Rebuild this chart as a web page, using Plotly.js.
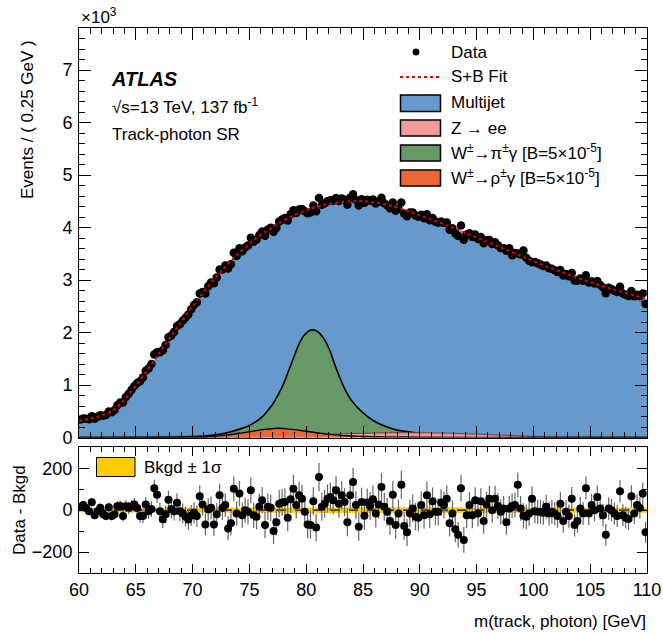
<!DOCTYPE html>
<html>
<head>
<meta charset="utf-8">
<script src="https://cdn.plot.ly/plotly-3.0.1.min.js"></script>
<style>html,body{margin:0;padding:0;background:#fff;}#chart{width:663px;height:634px;}</style>
</head>
<body>
<div id="chart"></div>
<script>
// ---------- DATA (events in units of 10^3 for the upper panel) ----------
const fitX = [60,61,62,63,64,65,66,67,68,69,70,71,72,73,74,75,76,77,78,79,80,81,82,83,84,85,86,87,88,89,90,91,92,93,94,95,96,97,98,99,100,101,102,103,104,105,106,107,108,109,110];
const fitY = [0.32,0.36,0.42,0.52,0.72,0.99,1.28,1.59,1.90,2.20,2.50,2.78,3.04,3.28,3.50,3.69,3.86,4.00,4.13,4.24,4.33,4.40,4.45,4.48,4.50,4.50,4.48,4.44,4.38,4.31,4.23,4.15,4.07,3.99,3.90,3.81,3.72,3.63,3.54,3.45,3.36,3.27,3.19,3.11,3.03,2.96,2.89,2.82,2.76,2.70,2.64];

const piX = [60,65,70,71,72,73,74,75,76,77,77.5,78,78.5,79,79.5,80,80.5,81,81.5,82,82.5,83,83.5,84,85,86,87,88,89,90,92,94,96,98,100,110];
const piY = [0.0,0.005,0.02,0.03,0.05,0.09,0.15,0.23,0.37,0.62,0.80,1.02,1.30,1.58,1.84,1.99,2.05,2.02,1.90,1.70,1.40,1.12,0.88,0.70,0.47,0.31,0.21,0.14,0.11,0.08,0.05,0.03,0.02,0.01,0.0,0.0];

const rhoX = [60,68,70,71,72,73,74,75,76,77,77.5,78,79,80,81,82,83,84,85,86,88,90,95,110];
const rhoY = [0.0,0.002,0.005,0.01,0.025,0.045,0.075,0.11,0.145,0.168,0.175,0.17,0.15,0.12,0.085,0.06,0.04,0.03,0.02,0.015,0.01,0.005,0.0,0.0];

const zeeX = [60,70,72,74,76,78,80,82,84,86,88,90,92,94,96,98,100,102,105,110];
const zeeY = [0.0,0.0,0.005,0.01,0.02,0.03,0.045,0.06,0.075,0.085,0.09,0.09,0.085,0.07,0.055,0.038,0.022,0.012,0.006,0.002];

// data points (10^3 events per 0.25 GeV bin), 200 bins from 60 to 110 GeV
const dataY = [
0.341,0.360,0.355,0.350, 0.406,0.359,0.393,0.424, 0.413,0.430,0.497,0.480, 0.525,0.614,0.665,0.667, 0.773,0.832,0.908,0.983,
1.036,1.071,1.143,1.271, 1.314,1.401,1.579,1.625, 1.624,1.662,1.764,1.911, 1.943,2.008,2.123,2.158, 2.223,2.283,2.343,2.438,
2.522,2.577,2.741,2.772, 2.745,2.881,2.954,2.940, 3.050,3.201,3.200,3.274, 3.221,3.300,3.520,3.457, 3.603,3.547,3.619,3.658,
3.806,3.730,3.765,3.855, 3.925,3.842,3.964,3.994, 3.917,3.991,4.112,4.150, 4.183,4.135,4.251,4.328, 4.275,4.345,4.351,4.311,
4.271,4.285,4.417,4.308, 4.564,4.435,4.462,4.499, 4.517,4.508,4.564,4.507, 4.554,4.527,4.435,4.569, 4.634,4.524,4.421,4.539,
4.471,4.529,4.508,4.535, 4.459,4.492,4.565,4.461, 4.425,4.366,4.477,4.317, 4.355,4.475,4.260,4.213, 4.284,4.288,4.229,4.204,
4.244,4.176,4.251,4.140, 4.183,4.112,4.092,4.116, 4.084,4.095,3.957,3.984, 3.888,3.838,4.039,3.769, 3.865,3.890,3.820,3.868,
3.783,3.819,3.702,3.758, 3.764,3.686,3.719,3.661, 3.611,3.604,3.558,3.606, 3.471,3.514,3.504,3.485, 3.560,3.424,3.367,3.340,
3.344,3.318,3.296,3.268, 3.276,3.224,3.212,3.184, 3.152,3.191,3.088,3.112, 3.072,3.135,2.989,2.988, 3.029,2.988,3.091,2.953,
2.975,2.934,2.979,2.907, 2.857,2.746,2.854,2.829, 2.797,2.770,2.873,2.744, 2.717,2.696,2.789,2.692, 2.717,2.689,2.743,2.543];

// data - background (events)
const resid = [
16,25,10,-5, 38,-24,-5,11, -20,-28,14,-28, -20,19,20,-28, 19,11,19,27,
10,-28,-28,27, -5,5,105,74, -5,-44,-20,50, 5,-5,35,-5, -15,-30,-45,-25,
-13,-28,66,27, -68,3,11,-68, -20,71,10,24, -87,-63,102,-16, 79,-24,0,-8,
95,-24,-31,16, 47,-71,16,11, -99,-58,31,36, 39,-36,52,102, 24,71,55,-8,
-68,-71,43,-83, 158,16,31,55, 63,47,95,31, 71,39,-58,71, 134,24,-79,39,
-27,36,20,52, -16,27,110,16, -8,-52,74,-71, -16,121,-76,-106, -16,8,-31,-36,
24,-24,71,-20, 43,-8,-8,36, 24,55,-63,-16, -91,-118,105,-142, -24,24,-24,47,
-16,43,-52,27, 55,0,55,20, -8,8,-58,8, 20,24,121,8, -27,-31,-16,55,
-5,-8,-8,-13, 16,-16,-8,-16, -28,31,-52,-8, -28,55,-71,-52, 8,-16,105,-16,
24,0,63,8, -24,-118,8,0, -16,-28,90,-24, -36,-42,66,-16, 24,11,80,-105];

const bandX = [60,70,80,90,100,110];
const bandSigma = [10,12,14,14,12,12];

const binLow = 60, binWidth = 0.25;
const binX = dataY.map((_, i) => binLow + binWidth * (i + 0.5));
const statErr = dataY.map(v => Math.sqrt(v * 1000));      // Poisson error, events
const statErrK = statErr.map(e => e / 1000);              // in 10^3 units

// ---------- COLOURS ----------
const cBlue = '#6699cc', cPink = '#f29b9b', cGreen = '#669966', cOrange = '#ee6633', cYellow = '#ffcc00';

const traces = [
  {x: fitX, y: fitY, xaxis:'x', yaxis:'y', type:'scatter', mode:'lines', fill:'tozeroy', fillcolor:cBlue,
   line:{width:0, shape:'spline', color:cBlue}, hoverinfo:'skip'},
  {x: piX, y: piY, xaxis:'x', yaxis:'y', type:'scatter', mode:'lines', fill:'tozeroy', fillcolor:cGreen,
   line:{width:1.6, shape:'spline', color:'#000'}},
  {x: zeeX, y: zeeY, xaxis:'x', yaxis:'y', type:'scatter', mode:'lines', fill:'tozeroy', fillcolor:cPink,
   line:{width:1, shape:'spline', color:'#6b3a3a'}},
  {x: rhoX, y: rhoY, xaxis:'x', yaxis:'y', type:'scatter', mode:'lines', fill:'tozeroy', fillcolor:cOrange,
   line:{width:1.4, shape:'spline', color:'#000'}},
  {x: binX, y: dataY, xaxis:'x', yaxis:'y', type:'scatter', mode:'markers',
   marker:{color:'#000', size:8.5}, error_y:{type:'data', array:statErrK, color:'#000', thickness:1, width:0}},
  {x: fitX, y: fitY, xaxis:'x', yaxis:'y', type:'scatter', mode:'lines',
   line:{width:2, dash:'dot', shape:'spline', color:'#e00000'}},
  // lower panel
  {x: bandX, y: bandSigma.map(s => -s), xaxis:'x2', yaxis:'y2', type:'scatter', mode:'lines', line:{width:0, color:cYellow}},
  {x: bandX, y: bandSigma, xaxis:'x2', yaxis:'y2', type:'scatter', mode:'lines', fill:'tonexty', fillcolor:cYellow, line:{width:0, color:cYellow}},
  {x: [60,110], y: [0,0], xaxis:'x2', yaxis:'y2', type:'scatter', mode:'lines', line:{width:1.2, dash:'dash', color:'#000'}},
  {x: binX, y: resid, xaxis:'x2', yaxis:'y2', type:'scatter', mode:'markers',
   marker:{color:'#000', size:8}, error_y:{type:'data', array:statErr, color:'#666', thickness:1.2, width:0}}
];

// ---------- LAYOUT helpers ----------
const L = 79, T = 28, W = 568, H = 545;
const px = x => (x - L) / W;
const py = y => (T + H - y) / H;
const F = 'Liberation Sans, Arial, Helvetica, sans-serif';

function txt(x, y, text, size, opts) {
  return Object.assign({xref:'paper', yref:'paper', x: px(x), y: py(y), text: text, showarrow:false,
    xanchor:'left', yanchor:'middle', font:{family:F, size:size, color:'#000'}}, opts || {});
}
function rect(x0, y0, x1, y1, fill, lw) {
  return {type:'rect', xref:'paper', yref:'paper', x0:px(x0), x1:px(x1), y0:py(y1), y1:py(y0),
    fillcolor:fill, line:{color:'#000', width:lw}};
}

const axisCommon = {
  showline:true, linecolor:'#000', linewidth:1, mirror:'allticks', ticks:'inside', tickcolor:'#000',
  showgrid:false, zeroline:false, tickfont:{family:F, size:18, color:'#000'}
};

const layout = {
  width:663, height:634,
  margin:{l:L, r:663 - L - W, t:T, b:634 - T - H, pad:0},
  paper_bgcolor:'#fff', plot_bgcolor:'#fff',
  showlegend:false, hovermode:false,
  font:{family:F, size:17, color:'#000'},
  xaxis: Object.assign({}, axisCommon, {anchor:'y', domain:[0,1], range:[60,110], dtick:5, tick0:60, ticklen:12,
    showticklabels:false, minor:{ticks:'inside', ticklen:6, dtick:1, tickcolor:'#000', showgrid:false}}),
  yaxis: Object.assign({}, axisCommon, {anchor:'x', domain:[(T + H - 437.5) / H, 1], range:[0,7.8], dtick:1, tick0:0, ticklen:12,
    ticklabelstandoff:2, minor:{ticks:'inside', ticklen:6, dtick:0.2, tickcolor:'#000', showgrid:false}}),
  xaxis2: Object.assign({}, axisCommon, {anchor:'y2', domain:[0,1], range:[60,110], dtick:5, tick0:60, ticklen:9,
    minor:{ticks:'inside', ticklen:5, dtick:1, tickcolor:'#000', showgrid:false}}),
  yaxis2: Object.assign({}, axisCommon, {anchor:'x2', domain:[0, (T + H - 447.3) / H], range:[-300,300], dtick:200, tick0:0, ticklen:10,
    ticklabelstandoff:2, minor:{ticks:'inside', ticklen:5, dtick:100, tickcolor:'#000', showgrid:false}}),
  annotations: [
    txt(79, 16, '×10<sup>3</sup>', 17),
    txt(27, 120, 'Events / ( 0.25 GeV )', 17, {xanchor:'center', textangle:-90}),
    txt(20, 510, 'Data - Bkgd', 17, {xanchor:'center', textangle:-90}),
    txt(648, 621, 'm(track, photon) [GeV]', 17, {xanchor:'right'}),
    txt(109, 79, '<b><i>ATLAS</i></b>', 20),
    txt(110, 106, '√s=13 TeV, 137 fb<sup>-1</sup>', 17),
    txt(110, 134, 'Track-photon SR', 17),
    txt(449, 52, 'Data', 17),
    txt(449, 77, 'S+B Fit', 17),
    txt(449, 102, 'Multijet', 17),
    txt(449, 128, 'Z → ee', 17),
    txt(449, 152, 'W<sup>±</sup>→π<sup>±</sup>γ [B=5×10<sup>-5</sup>]', 17),
    txt(449, 177, 'W<sup>±</sup>→ρ<sup>±</sup>γ [B=5×10<sup>-5</sup>]', 17),
    txt(142, 467, 'Bkgd ± 1σ', 17)
  ],
  shapes: [
    {type:'circle', xref:'paper', yref:'paper', x0:px(412.5), x1:px(419.5), y0:py(55.5), y1:py(48.5), fillcolor:'#000', line:{color:'#000', width:0}},
    {type:'line', xref:'paper', yref:'paper', x0:px(400), x1:px(441), y0:py(77), y1:py(77), line:{color:'#e00000', width:2, dash:'dot'}},
    rect(400.5, 95, 440.5, 111.5, cBlue, 1.5),
    rect(400.5, 120, 440.5, 136, cPink, 1.5),
    rect(400.5, 145, 440.5, 161, cGreen, 1.5),
    rect(400.5, 170, 440.5, 186, cOrange, 1.5),
    rect(96.5, 457.5, 135, 476.5, cYellow, 1)
  ]
};

Plotly.newPlot('chart', traces, layout, {staticPlot:true, displayModeBar:false});
</script>
</body>
</html>
